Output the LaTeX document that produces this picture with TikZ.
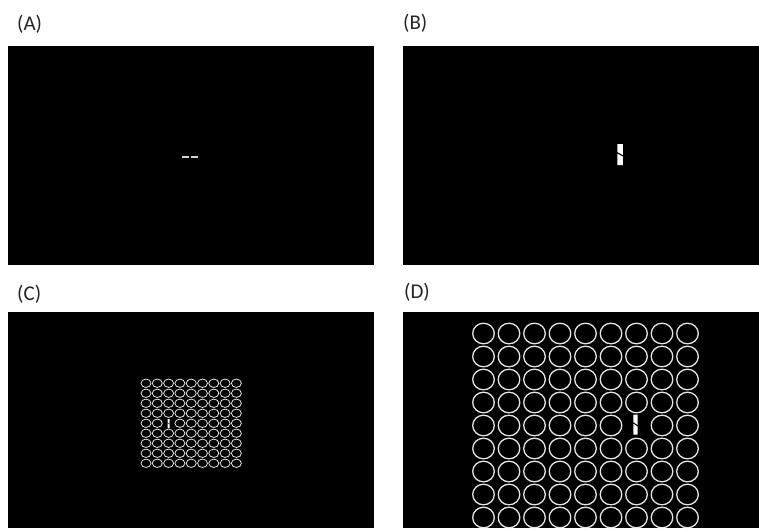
\documentclass[tikz,border=0pt]{standalone}
\usepackage{fontspec}
\setmainfont{Carlito}
\usepackage{tikz}
\usetikzlibrary{positioning}

\tikzset{
    panel/.style={fill=black, draw=none},
    tag/.style={anchor=west, inner sep=0pt, text=black!85, font=\fontsize{21}{24}\selectfont},
    ring/.style={draw=white!80!gray, line width=#1},
    ring/.default=1.2pt,
    slit/.style={fill=white, draw=none},
    dashbit/.style={draw=white!65!gray, line width=1.3pt}
}

% bar with a diagonal cut (centre x, centre y, width, height)
\newcommand{\cutbar}[4]{%
    \begin{scope}[shift={(#1,#2)}]
        \fill[slit] (-#3/2,-#4/2) -- (#3/2,-#4/2) -- (#3/2,0.02*#4) -- (-#3/2,-0.12*#4) -- cycle;
        \fill[slit] (-#3/2,-0.04*#4) -- (#3/2,0.1*#4) -- (#3/2,#4/2) -- (-#3/2,#4/2) -- cycle;
    \end{scope}}

\begin{document}
\begin{tikzpicture}[x=1pt, y=-1pt]
    \useasboundingbox[fill=white] (0,0) rectangle (759,528);

    % --- labels ---
    \node[tag] (labA) at (17,24) {(A)};
    \node[tag] (labB) at (403,23) {(B)};
    \node[tag] (labC) at (17,294) {(C)};
    \node[tag] (labD) at (404,292) {(D)};

    % --- panels ---
    \fill[panel] (8,46) rectangle (374,265);
    \fill[panel] (403,46) rectangle (759,265);
    \fill[panel] (8,312) rectangle (374,528);
    \fill[panel] (403,312) rectangle (759,528);

    % (A) two short dashes
    \draw[dashbit] (182,157) -- (189,157);
    \draw[dashbit] (191,157) -- (198,157);

    % (B) single bar
    \cutbar{620}{154.5}{5.5}{21}

    % (C) small ring grid, one ring swapped for the bar
    \foreach \row in {0,...,8}
        \foreach \col in {0,...,8}{
            \ifnum\numexpr\row*9+\col\relax=38
            \else
                \draw[ring=0.8pt] ({146+11.3*\col},{383.25+10*\row}) ellipse (5 and 4.2);
            \fi
        }
    \cutbar{168.6}{423.5}{2.2}{9}

    % (D) large ring grid
    \foreach \row in {0,...,8}
        \foreach \col in {0,...,8}{
            \ifnum\numexpr\row*9+\col\relax=42
            \else
                \draw[ring=1.3pt] ({483.5+25.5*\col},{333.5+23*\row}) ellipse (10.8 and 10.3);
            \fi
        }
    \cutbar{635.5}{424.5}{4.2}{20}

\end{tikzpicture}
\end{document}
